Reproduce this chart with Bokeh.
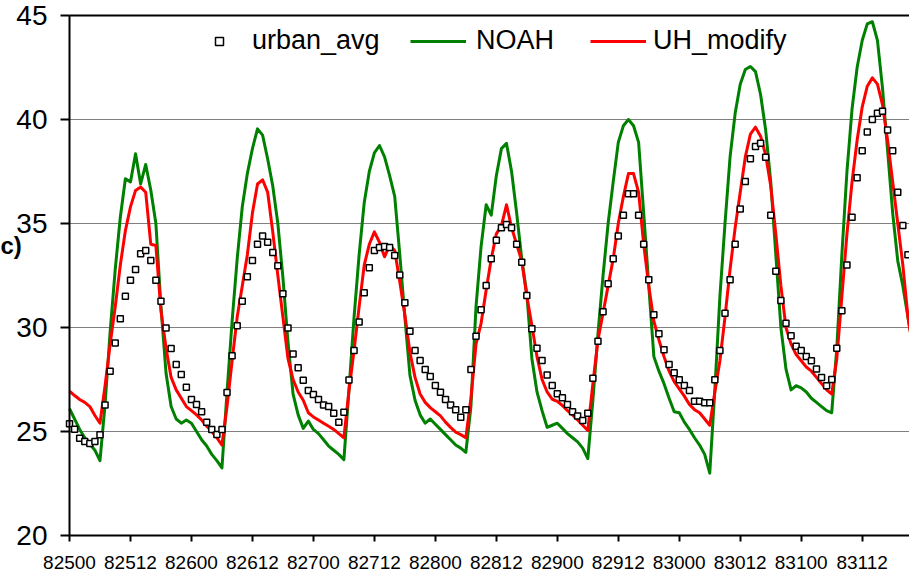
from bokeh.plotting import figure
from bokeh.models import Range1d, FixedTicker, Legend, LegendItem, Label, ColumnDataSource
from bokeh.embed import file_html
from bokeh.resources import INLINE

# hourly values, 82500 (Aug 25 00h) onward
urban_avg = [
    25.37, 25.11, 24.68, 24.52, 24.42, 24.52, 24.84, 26.28, 27.9, 29.25, 30.42, 31.5,
    32.27, 32.79, 33.54, 33.7, 33.22, 32.27, 31.26, 29.98, 28.99, 28.22, 27.74, 27.13,
    26.54, 26.3, 25.95, 25.45, 25.1, 24.86, 25.1, 26.88, 28.64, 30.08, 31.26, 32.44,
    33.22, 34.0, 34.4, 34.1, 33.6, 32.97, 31.62, 29.98, 28.73, 28.06, 27.46, 26.97,
    26.78, 26.54, 26.28, 26.2, 25.88, 25.45, 25.93, 27.48, 28.89, 30.26, 31.67, 32.87,
    33.7, 33.85, 33.9, 33.85, 33.46, 32.53, 31.19, 29.82, 28.89, 28.41, 27.98, 27.64,
    27.21, 26.89, 26.54, 26.28, 26.04, 25.69, 26.04, 27.98, 29.58, 30.85, 32.02, 33.3,
    34.2, 34.8, 34.95, 34.8, 34.0, 33.14, 31.54, 29.94, 29.0, 28.41, 27.72, 27.21,
    26.81, 26.62, 26.3, 25.95, 25.74, 25.53, 25.88, 27.56, 29.34, 30.76, 32.1, 33.3,
    34.4, 35.4, 36.43, 36.43, 35.4, 34.0, 32.29, 30.61, 29.7, 28.93, 28.22, 27.82,
    27.49, 27.21, 26.97, 26.46, 26.46, 26.38, 26.38, 27.49, 28.89, 30.69, 32.29, 34.0,
    35.7, 37.02, 38.11, 38.7, 38.86, 38.19, 35.4, 32.7, 31.3, 30.2, 29.6, 29.1,
    28.9, 28.6, 28.4, 28.0, 27.6, 27.2, 27.5, 29.0, 30.8, 33.0, 35.3, 37.2,
    38.5, 39.4, 40.0, 40.3, 40.4, 39.5, 38.5, 36.5, 34.9, 33.5, 32.0,
]

noah = [
    26.1, 25.6, 25.1, 24.7, 24.4, 24.1, 23.6, 26.3, 29.8, 32.8, 35.3, 37.15,
    37.0, 38.35, 36.9, 37.84, 36.6, 35.0, 31.0, 27.8, 26.2, 25.6, 25.4, 25.55,
    25.4, 25.0, 24.6, 24.3, 23.9, 23.6, 23.25, 26.9, 30.3, 33.3, 35.8, 37.4,
    38.6, 39.55, 39.25, 38.1, 36.8, 35.0, 32.4, 29.3, 26.8, 25.8, 25.15, 25.5,
    25.1, 24.9, 24.6, 24.3, 24.1, 23.9, 23.65, 27.0, 30.5, 33.5, 36.0, 37.5,
    38.4, 38.75, 38.2, 37.3, 36.3, 33.5, 30.5, 27.7, 26.5, 25.8, 25.4, 25.6,
    25.35, 25.1, 24.85, 24.6, 24.35, 24.2, 24.0, 26.2, 31.0, 33.9, 35.9, 35.4,
    37.3, 38.6, 38.85, 37.5, 35.5, 33.3, 31.6, 28.5, 26.9, 26.0, 25.2, 25.3,
    25.4, 25.15, 24.9, 24.7, 24.5, 24.2, 23.7, 26.5, 29.7, 32.5, 35.0, 37.0,
    38.9, 39.7, 40.0, 39.7, 38.9, 35.5, 32.0, 28.6, 27.9, 27.3, 26.6, 25.95,
    25.9, 25.45, 25.1, 24.7, 24.35, 23.9, 23.0, 27.0, 31.5, 35.0, 38.2, 40.3,
    41.7, 42.4, 42.55, 42.3, 41.2, 39.5, 37.0, 33.5, 30.0, 28.0, 27.0, 27.2,
    27.1, 26.9, 26.6, 26.4, 26.2, 26.0, 25.9, 29.0, 33.5, 37.5, 40.5, 42.5,
    43.8, 44.6, 44.7, 43.8, 41.5, 38.5, 35.5, 33.2, 32.0, 30.5, 29.0,
]

uh_modify = [
    26.94, 26.73, 26.54, 26.4, 26.2, 25.77, 25.4, 27.2, 29.2, 31.0, 33.0, 34.66,
    35.8, 36.59, 36.75, 36.5, 34.0, 33.94, 30.8, 29.0, 27.6, 27.0, 26.6, 26.2,
    26.0, 25.8, 25.55, 25.25, 25.0, 24.7, 24.35, 26.2, 28.4, 30.5, 32.0, 33.5,
    35.5, 36.9, 37.1, 36.5, 34.6, 32.5, 30.5, 28.5, 27.5, 26.9, 26.5, 25.9,
    25.7, 25.55, 25.4, 25.25, 25.1, 24.9, 24.7, 26.97, 28.9, 31.0, 33.0, 34.0,
    34.6, 34.1, 33.4, 33.95, 33.7, 32.2, 30.6, 28.8, 27.6, 26.8, 26.4, 26.15,
    25.95, 25.75, 25.45, 25.2, 24.97, 24.85, 24.7, 26.6, 29.2, 30.2, 31.8, 33.3,
    34.5, 34.9, 35.9, 34.8, 34.0, 33.2, 31.5, 30.1, 28.6, 27.5, 26.9, 26.55,
    26.45, 26.25, 26.0, 25.8, 25.55, 25.3, 25.05, 27.3, 29.4, 30.7, 32.0, 33.3,
    35.0, 36.3, 37.4, 37.4, 36.5, 34.0, 32.0, 30.3, 29.4, 28.6, 27.9, 27.4,
    27.05, 26.7, 26.3, 26.05, 25.9, 25.6, 25.3, 26.9, 28.4, 30.5, 32.8, 34.8,
    36.5, 38.2, 39.3, 39.63, 39.2, 38.3, 36.8, 34.5, 32.0, 30.0, 29.2, 28.7,
    28.4, 28.1, 27.9, 27.6, 27.3, 27.0, 26.8, 28.5, 31.5, 34.5, 37.0, 39.0,
    40.6, 41.6, 42.0, 41.7, 40.7, 39.0, 37.0, 35.0, 33.0, 30.5, 29.0,
]

tick_labels = ["82500", "82512", "82600", "82612", "82700", "82712", "82800",
               "82812", "82900", "82912", "83000", "83012", "83100", "83112"]
y_ticks = [20, 25, 30, 35, 40, 45]

FONT = "Liberation Sans"
W, H = 909, 574
PX_X = 5.0814          # pixels per hour
PX_Y = 20.8            # pixels per degree
AX_LEFT, AX_BOTTOM, AX_TOP = 69, 39, 15   # pixel margins of the plot box

x0 = -AX_LEFT / PX_X
x1 = x0 + W / PX_X
y0 = y_ticks[0] - AX_BOTTOM / PX_Y
y1 = y_ticks[-1] + AX_TOP / PX_Y

hours = list(range(len(urban_avg)))
src = ColumnDataSource(dict(x=hours, urban=urban_avg, noah=noah, uh=uh_modify))

p = figure(width=W, height=H, output_backend="svg", toolbar_location=None,
           title=None, x_range=Range1d(x0, x1), y_range=Range1d(y0, y1),
           min_border=0)
p.background_fill_color = "white"
p.border_fill_color = "white"
p.outline_line_color = None

tick_pos = [12 * i for i in range(len(tick_labels))]
p.xaxis.ticker = FixedTicker(ticks=tick_pos)
p.xaxis.major_label_overrides = {t: lab for t, lab in zip(tick_pos, tick_labels)}
p.xaxis.minor_tick_line_color = None
p.xaxis.major_tick_out = 6
p.xaxis.major_tick_in = 0
p.xaxis.major_label_text_font = FONT
p.xaxis.major_label_text_font_size = "19px"
p.xaxis.major_label_text_color = "black"
p.xaxis.major_label_standoff = 14
p.xaxis.fixed_location = y_ticks[0]
p.xaxis.bounds = (0, x1)

p.yaxis.ticker = FixedTicker(ticks=y_ticks)
p.yaxis.minor_tick_line_color = None
p.yaxis.major_tick_out = 9
p.yaxis.major_tick_in = 0
p.yaxis.major_label_text_font = FONT
p.yaxis.major_label_text_font_size = "28px"
p.yaxis.major_label_text_color = "black"
p.yaxis.major_label_standoff = 13
p.yaxis.fixed_location = 0
p.yaxis.bounds = (y_ticks[0], y_ticks[-1])

for ax in (p.xaxis, p.yaxis):
    ax.axis_line_color = "black"
    ax.axis_line_width = 2
    ax.major_tick_line_color = "black"
    ax.major_tick_line_width = 2

p.xgrid.grid_line_color = None
p.ygrid.grid_line_color = None

# horizontal grid lines across the plot box, and its black top edge
grid_y = y_ticks[1:]
p.segment(x0=[0] * len(grid_y), x1=[x1] * len(grid_y), y0=grid_y, y1=grid_y,
          line_color="#808080", line_width=1)
p.segment(x0=[0], x1=[x1], y0=[y_ticks[-1]], y1=[y_ticks[-1]],
          line_color="black", line_width=2)

r_noah = p.line("x", "noah", source=src, line_color="#008000", line_width=3,
                line_join="round")
r_uh = p.line("x", "uh", source=src, line_color="#FF0000", line_width=3,
              line_join="round")
r_urb = p.scatter("x", "urban", source=src, marker="square", size=6,
                  fill_color="white", line_color="black", line_width=1.5)

def make_legend(label, renderer, vx, gw, standoff):
    lg = Legend(items=[LegendItem(label=label, renderers=[renderer])],
                location=(vx, 518), orientation="horizontal",
                glyph_width=gw, glyph_height=30, label_height=30,
                label_standoff=standoff, padding=0, margin=0, spacing=0,
                border_line_alpha=0, background_fill_alpha=0,
                label_text_font=FONT, label_text_font_size="27px",
                label_text_color="black")
    p.add_layout(lg)

make_legend("urban_avg", r_urb, 209, 20, 23)
make_legend("NOAH", r_noah, 410, 56, 10)
make_legend("UH_modify", r_uh, 590, 56, 7)

# cut-off y axis title at the left edge
p.add_layout(Label(x=x0, y=33.94, text="c)", text_font=FONT, text_font_size="24px",
                   text_font_style="bold", text_baseline="middle", text_color="black"))

open("out.html", "w").write(file_html(p, INLINE))
